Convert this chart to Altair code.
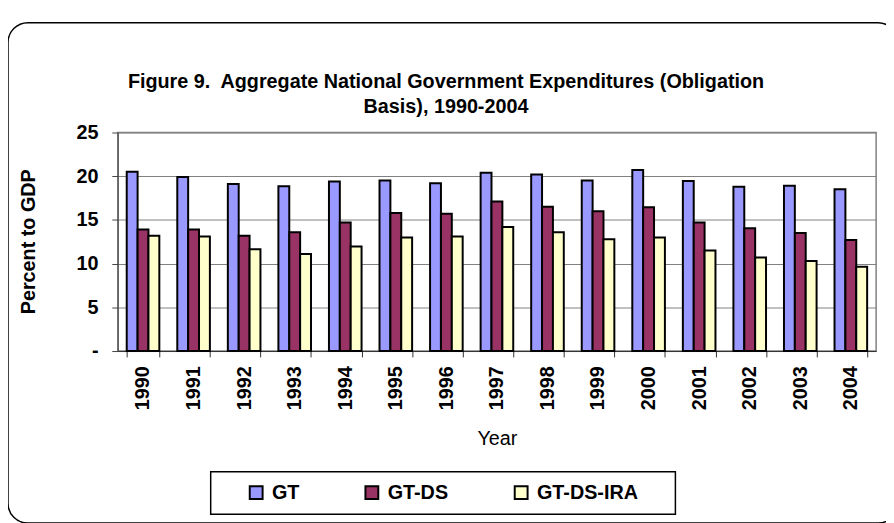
import altair as alt
import pandas as pd

years = [str(y) for y in range(1990, 2005)]
gt = [20.5, 19.9, 19.1, 18.85, 19.4, 19.5, 19.2, 20.4, 20.2, 19.5, 20.7, 19.45, 18.8, 18.9, 18.5]
gt_ds = [13.9, 13.9, 13.2, 13.6, 14.7, 15.8, 15.7, 17.1, 16.5, 16.0, 16.45, 14.7, 14.05, 13.5, 12.7]
gt_ds_ira = [13.2, 13.1, 11.65, 11.1, 11.95, 13.0, 13.1, 14.2, 13.6, 12.8, 13.0, 11.5, 10.7, 10.3, 9.65]
series_names = ["GT", "GT-DS", "GT-DS-IRA"]
colors = ["#9999FF", "#993366", "#FFFFCC"]
y_ticks = [0, 5, 10, 15, 20, 25]
title_lines = ["Figure 9.\u00a0 Aggregate National Government Expenditures (Obligation",
               "Basis), 1990-2004"]

rows = []
for i, yr in enumerate(years):
    for name, vals in zip(series_names, [gt, gt_ds, gt_ds_ira]):
        rows.append({"Year": yr, "Series": name, "Value": vals[i]})
df = pd.DataFrame(rows)

FONT = "Liberation Sans"
NB = "\u00a0"

bars = alt.Chart(df).mark_bar(stroke="black", strokeWidth=2).encode(
    x=alt.X("Year:N", sort=years,
            scale=alt.Scale(paddingInner=0.355, paddingOuter=0.1775),
            axis=alt.Axis(title="Year", labelAngle=-90, tickBand="extent",
                          labelFont=FONT, labelFontSize=20, labelFontWeight="bold",
                          labelColor="black", labelPadding=9,
                          tickSize=6, tickColor="#333333", domainColor="#333333",
                          titleFont=FONT, titleFontSize=20, titleFontWeight="normal",
                          titleColor="black", titleBaseline="middle", titleY=89)),
    xOffset=alt.XOffset("Series:N", sort=series_names,
                        scale=alt.Scale(paddingInner=0, paddingOuter=0)),
    y=alt.Y("Value:Q", scale=alt.Scale(domain=[0, 25], nice=False),
            axis=alt.Axis(title="Percent to GDP", values=y_ticks,
                          labelExpr="datum.value == 0 ? '-" + NB * 4 + "' : datum.label",
                          labelFont=FONT, labelFontSize=20, labelFontWeight="bold",
                          labelColor="black", labelPadding=14,
                          tickSize=6, tickColor="#444444", domainColor="#444444",
                          gridColor="#808080", gridWidth=1,
                          titleFont=FONT, titleFontSize=20, titleFontWeight="bold",
                          titleColor="black", titleBaseline="middle",
                          titleX=-90, titleY=110)),
    color=alt.Color("Series:N", sort=series_names,
                    scale=alt.Scale(domain=series_names, range=colors),
                    legend=alt.Legend(title=None, orient="none", direction="horizontal",
                                      legendX=130, legendY=354, padding=0,
                                      symbolType="square", symbolSize=169,
                                      symbolStrokeColor="black", symbolStrokeWidth=2,
                                      symbolOpacity=1, labelOffset=6,
                                      labelFont=FONT, labelFontSize=20,
                                      labelFontWeight="bold", labelColor="black",
                                      columnPadding=62)),
)

frame = alt.Chart(pd.DataFrame({"a": [0]})).mark_rect(
    fill="transparent", stroke="black", strokeWidth=1.5, cornerRadius=20
).encode(x=alt.value(-111), x2=alt.value(789), y=alt.value(-111), y2=alt.value(395))

legend_box = alt.Chart(pd.DataFrame({"a": [0]})).mark_rect(
    fill="transparent", stroke="black", strokeWidth=1.5
).encode(x=alt.value(94), x2=alt.value(564), y=alt.value(343), y2=alt.value(386))

chart = alt.layer(frame, legend_box, bars).properties(
    width=767, height=221,
    title=alt.TitleParams(text=title_lines, font=FONT, fontSize=20, fontWeight="bold",
                          color="black", anchor="middle", dx=-51.5, dy=100, lineHeight=25),
    padding={"left": 111, "top": 123, "right": 10, "bottom": 171},
    autosize=alt.AutoSizeParams(type="none"),
).configure_view(stroke="#808080", strokeWidth=1.5)

chart.save("out.html", embed_options={"renderer": "svg", "actions": False})
